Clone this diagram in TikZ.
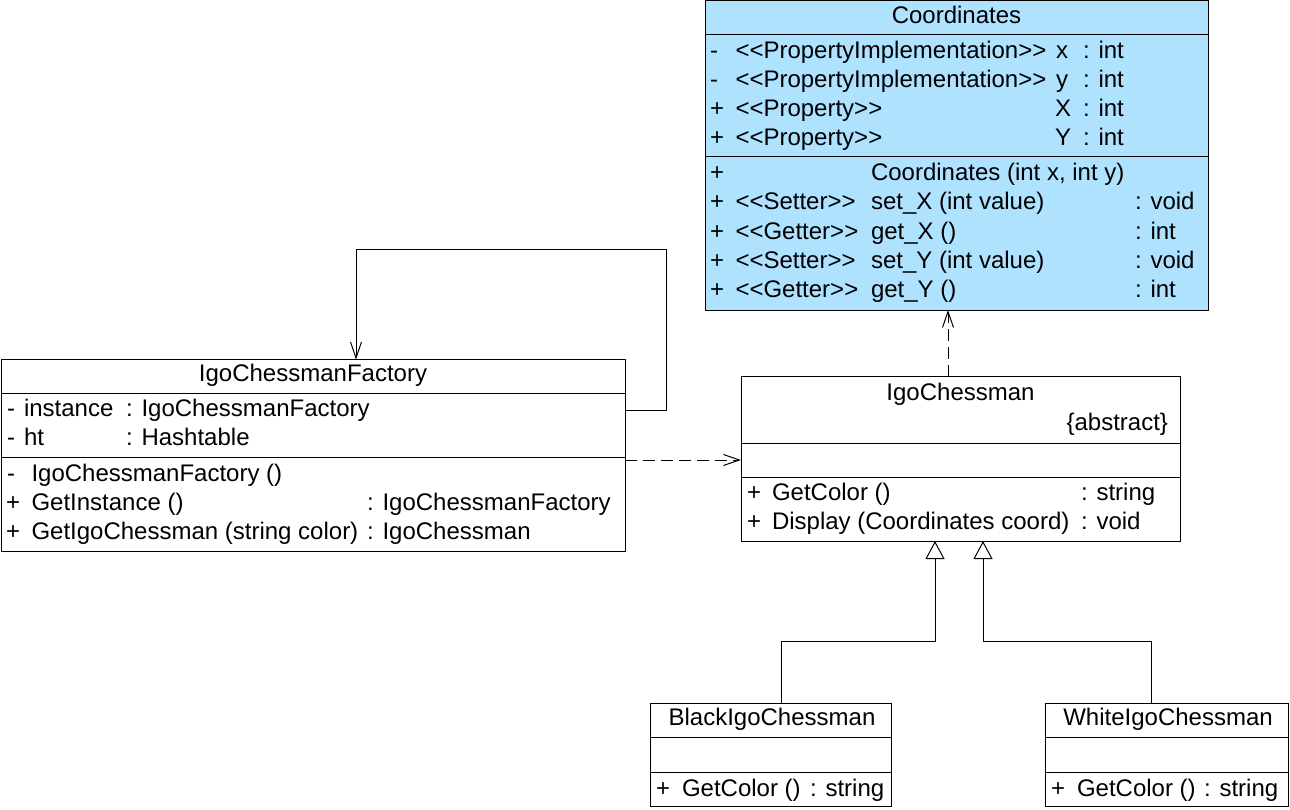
\documentclass[tikz,border=0pt]{standalone}
\usepackage{fontspec}
\newfontfamily\umlfont{Liberation Sans}
\usetikzlibrary{arrows.meta}
\definecolor{cblue}{RGB}{174,226,255}
\tikzset{
  box/.style={draw, line width=1pt, rectangle, inner sep=0pt, outer sep=0pt, anchor=north west},
  txt/.style={inner sep=0pt, outer sep=0pt, anchor=base west, font=\umlfont\fontsize{24}{28}\selectfont},
  ctxt/.style={txt, anchor=base},
  rtxt/.style={txt, anchor=base east},
  barb/.style={-{Straight Barb[length=16pt,width=11pt,line width=1pt]}},
  dep/.style={barb, dash pattern=on 12pt off 6pt},
  gen/.style={-{Triangle[open, length=18pt, width=19pt, fill=white, line width=1pt]}},
  conn/.style={line width=1pt}
}
\begin{document}
\begin{tikzpicture}[x=1pt,y=-1pt]
\useasboundingbox (0,0) rectangle (1290,810);
% ---------- Coordinates ----------
\node[box, fill=cblue, minimum width=503pt, minimum height=309.5pt] (coord) at (705,0.5) {};
\draw[conn] (705,34.5) -- (1208,34.5);
\draw[conn] (705,157) -- (1208,157);
\node[ctxt] (ct) at (956.5,23.5) {Coordinates};
\node[txt] (ca1v) at (710,58.5) {-};
\node[txt] (ca1s) at (735.5,58.5) {<\kern0pt<PropertyImplementation>\kern0pt>};
\node[txt] (ca1n) at (1056,58.5) {x};
\node[txt] (ca1t) at (1083,58.5) {: int};
\node[txt] (ca2v) at (710,87.5) {-};
\node[txt] (ca2s) at (735.5,87.5) {<\kern0pt<PropertyImplementation>\kern0pt>};
\node[txt] (ca2n) at (1056,87.5) {y};
\node[txt] (ca2t) at (1083,87.5) {: int};
\node[txt] (ca3v) at (710,116.5) {+};
\node[txt] (ca3s) at (735.5,116.5) {<\kern0pt<Property>\kern0pt>};
\node[txt] (ca3n) at (1055,116.5) {X};
\node[txt] (ca3t) at (1083,116.5) {: int};
\node[txt] (ca4v) at (710,145.5) {+};
\node[txt] (ca4s) at (735.5,145.5) {<\kern0pt<Property>\kern0pt>};
\node[txt] (ca4n) at (1055,145.5) {Y};
\node[txt] (ca4t) at (1083,145.5) {: int};
\node[txt] (cm1v) at (710,180.5) {+};
\node[txt] (cm1n) at (871,180.5) {Coordinates (int x, int y)};
\node[txt] (cm2v) at (710,210) {+};
\node[txt] (cm2s) at (735.5,210) {<\kern0pt<Setter>\kern0pt>};
\node[txt] (cm2n) at (871,210) {set\_X (int value)};
\node[txt] (cm2t) at (1135,210) {: void};
\node[txt] (cm3v) at (710,239.5) {+};
\node[txt] (cm3s) at (735.5,239.5) {<\kern0pt<Getter>\kern0pt>};
\node[txt] (cm3n) at (871,239.5) {get\_X ()};
\node[txt] (cm3t) at (1135,239.5) {: int};
\node[txt] (cm4v) at (710,268.5) {+};
\node[txt] (cm4s) at (735.5,268.5) {<\kern0pt<Setter>\kern0pt>};
\node[txt] (cm4n) at (871,268.5) {set\_Y (int value)};
\node[txt] (cm4t) at (1135,268.5) {: void};
\node[txt] (cm5v) at (710,298) {+};
\node[txt] (cm5s) at (735.5,298) {<\kern0pt<Getter>\kern0pt>};
\node[txt] (cm5n) at (871,298) {get\_Y ()};
\node[txt] (cm5t) at (1135,298) {: int};
% ---------- IgoChessmanFactory ----------
\node[box, minimum width=624pt, minimum height=191.5pt] (fac) at (1,359.5) {};
\draw[conn] (1,393.5) -- (625,393.5);
\draw[conn] (1,457.5) -- (625,457.5);
\node[ctxt] (ft) at (313,381.5) {IgoChessmanFactory};
\node[txt] (fa1v) at (7,416.5) {-};
\node[txt] (fa1n) at (24,416.5) {instance};
\node[txt] (fa1t) at (126,416.5) {: IgoChessmanFactory};
\node[txt] (fa2v) at (7,445.5) {-};
\node[txt] (fa2n) at (24,445.5) {ht};
\node[txt] (fa2t) at (126,445.5) {: Hashtable};
\node[txt] (fm1v) at (7,481) {-};
\node[txt] (fm1n) at (31.5,481) {IgoChessmanFactory ()};
\node[txt] (fm2v) at (6,510) {+};
\node[txt] (fm2n) at (31.5,510) {GetInstance ()};
\node[txt] (fm2t) at (367,510) {: IgoChessmanFactory};
\node[txt] (fm3v) at (6,539) {+};
\node[txt] (fm3n) at (31.5,539) {GetIgoChessman (string color)};
\node[txt] (fm3t) at (367,539) {: IgoChessman};
% ---------- IgoChessman ----------
\node[box, minimum width=439pt, minimum height=164.5pt] (ich) at (741,376.5) {};
\draw[conn] (741,443.5) -- (1180,443.5);
\draw[conn] (741,477) -- (1180,477);
\node[ctxt] (it) at (960.5,400) {IgoChessman};
\node[rtxt] (iab) at (1168,430) {\{abstract\}};
\node[txt] (im1v) at (747,500) {+};
\node[txt] (im1n) at (772,500) {GetColor ()};
\node[txt] (im1t) at (1081,500) {: string};
\node[txt] (im2v) at (747,529.5) {+};
\node[txt] (im2n) at (772,529.5) {Display (Coordinates coord)};
\node[txt] (im2t) at (1081,529.5) {: void};
% ---------- BlackIgoChessman ----------
\node[box, minimum width=241pt, minimum height=103pt] (blk) at (650,703) {};
\draw[conn] (650,737) -- (891,737);
\draw[conn] (650,772) -- (891,772);
\node[ctxt] (bt) at (772,725) {BlackIgoChessman};
\node[txt] (bm1v) at (656,796.5) {+};
\node[txt] (bm1n) at (682,796.5) {GetColor ()};
\node[txt] (bm1t) at (810,796.5) {: string};
% ---------- WhiteIgoChessman ----------
\node[box, minimum width=243pt, minimum height=103pt] (wht) at (1045.5,703) {};
\draw[conn] (1045.5,737) -- (1288.5,737);
\draw[conn] (1045.5,772) -- (1288.5,772);
\node[ctxt] (wt) at (1168,725) {WhiteIgoChessman};
\node[txt] (wm1v) at (1051,796.5) {+};
\node[txt] (wm1n) at (1077,796.5) {GetColor ()};
\node[txt] (wm1t) at (1204,796.5) {: string};
% ---------- connectors ----------
\coordinate (loopA) at (666,249.5);
\draw[conn, barb] (fac.east |- 0,410) -| (loopA) -| (356,0 |- fac.north);
\draw[conn, dep] (fac.east |- 0,460) -- (ich.west |- 0,460);
\draw[conn, dep] (948,0 |- ich.north) -- (948,0 |- coord.south);
\coordinate (elbow) at (0,641);
\draw[conn, gen] (781,0 |- blk.north) |- (935,0 |- elbow) -- (935,0 |- ich.south);
\draw[conn, gen] (1151,0 |- wht.north) |- (983,0 |- elbow) -- (983,0 |- ich.south);
\end{tikzpicture}
\end{document}
